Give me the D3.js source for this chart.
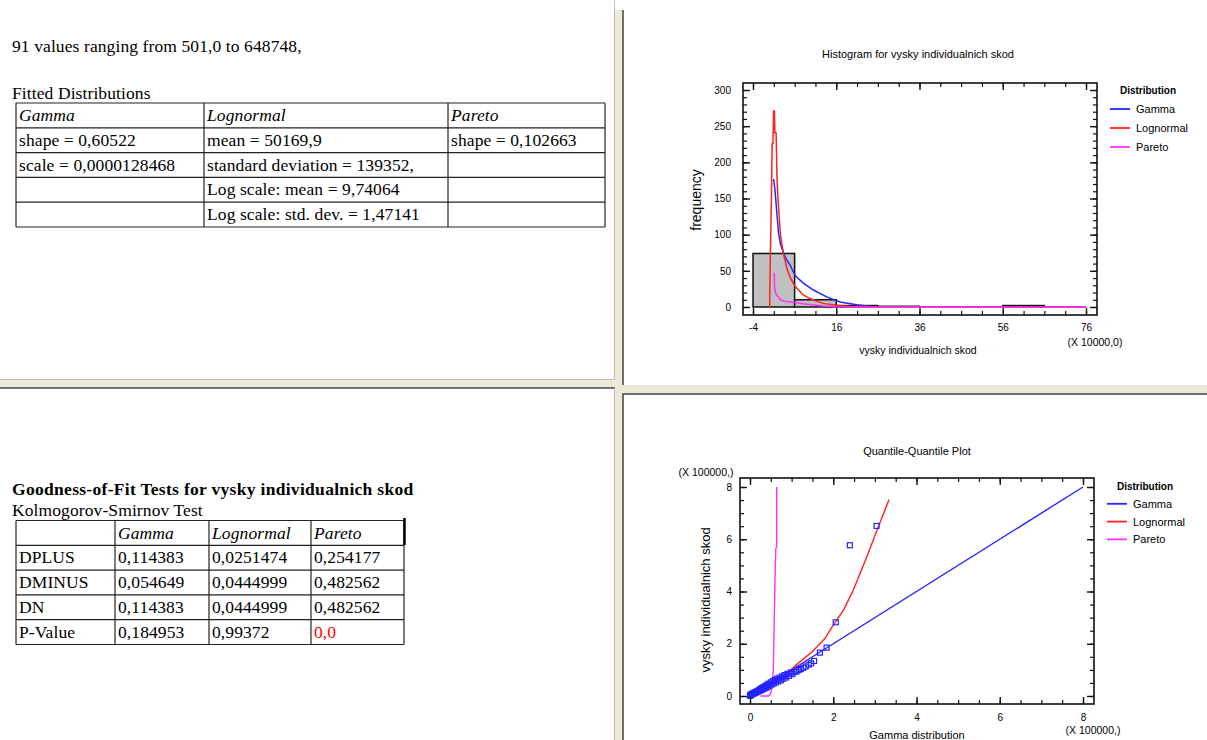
<!DOCTYPE html>
<html>
<head>
<meta charset="utf-8">
<script src="https://cdn.jsdelivr.net/npm/d3@7"></script>
<style>
  body { margin: 0; background: #fff; }
  svg text { font-family: "Liberation Sans", Arial, sans-serif; fill: #000; }
  svg text.doc { font-family: "Liberation Serif", "Times New Roman", serif; font-size: 17.5px; letter-spacing: 0.1px; }
  svg text.doc.heading { font-weight: bold; letter-spacing: 0.3px; }
</style>
</head>
<body>
<svg id="page" width="1207" height="740"></svg>
<script>
// Summary text
const summaryLine = "91 values ranging from 501,0 to 648748,";

// Fitted distributions table
const distNames = ["Gamma", "Lognormal", "Pareto"];
const fittedRows = [
  ["shape = 0,60522", "mean = 50169,9", "shape = 0,102663"],
  ["scale = 0,0000128468", "standard deviation = 139352,", ""],
  ["", "Log scale: mean = 9,74064", ""],
  ["", "Log scale: std. dev. = 1,47141", ""]
];

// Kolmogorov-Smirnov table
const ksHeader = ["", "Gamma", "Lognormal", "Pareto"];
const ksRows = [
  ["DPLUS", "0,114383", "0,0251474", "0,254177"],
  ["DMINUS", "0,054649", "0,0444999", "0,482562"],
  ["DN", "0,114383", "0,0444999", "0,482562"],
  ["P-Value", "0,184953", "0,99372", "0,0"]
];

// Histogram (x in units of 10000)
const binStarts = [-4, 6, 16, 26, 36, 46, 56];
const binWidth = 10;
const binCounts = [74, 10, 2, 1, 0, 0, 2];

// fitted curves on the histogram
const gammaX = [0.95, 1.3, 1.6, 2.15, 2.55, 3.35, 4.1, 4.9, 6.15, 8.1, 10.5, 13.7, 16.9, 20.9, 24.9, 30, 76];
const gammaY = [177, 161, 139, 102, 88, 74, 65, 58, 43, 33, 23.5, 14, 7, 3, 0.5, 0, 0];
const lognormX = [0, 0.1, 0.45, 0.6, 0.8, 0.95, 1.15, 1.25, 1.55, 1.75, 2.0, 2.6, 3.3, 4.2, 5.0, 6.2, 8.0, 9.5, 12.8, 16, 19, 25, 30, 76];
const lognormY = [0, 47, 160, 226, 226, 271, 271, 241, 241, 182, 150, 100, 74, 52, 40, 28, 17, 12, 5, 2.5, 1.2, 0.3, 0, 0];
const paretoX = [1.1, 1.2, 1.4, 1.7, 2.15, 2.55, 3.5, 4.5, 5.8, 8.0, 10.6, 13, 16, 20, 76];
const paretoY = [47, 26, 20, 16, 14, 10, 8, 7.3, 6.5, 4.5, 2.8, 1.5, 0.5, 0, 0];

// Quantile-quantile plot (units of 100000)
const qqGammaQ = [0.00,0.01,0.02,0.04,0.05,0.07,0.08,0.10,0.12,0.13,0.15,0.17,0.19,0.21,0.23,0.25,0.27,0.29,0.31,0.33,
  0.35,0.37,0.39,0.41,0.43,0.45,0.47,0.50,0.52,0.55,0.57,0.60,0.62,0.65,0.68,0.71,0.74,0.77,0.80,0.83,
  0.86,0.90,0.94,0.98,1.02,1.07,1.12,1.17,1.22,1.28,1.34,1.41,1.47,1.54,1.68,1.84,2.06,2.40,3.04];
const qqData = [0.01,0.03,0.05,0.06,0.08,0.09,0.10,0.12,0.11,0.15,0.14,0.18,0.17,0.22,0.20,0.27,0.23,0.31,0.26,0.35,
  0.29,0.38,0.32,0.43,0.36,0.47,0.40,0.52,0.44,0.57,0.48,0.62,0.52,0.66,0.56,0.70,0.60,0.75,0.66,0.80,
  0.71,0.85,0.77,0.90,0.84,0.92,0.94,1.00,1.03,1.08,1.13,1.20,1.25,1.34,1.66,1.85,2.82,5.77,6.51];
const qqGammaLineX = [0, 8];
const qqGammaLineY = [0, 8];
const qqLognormX = [0, 0.3, 0.72, 1.12, 1.5, 1.8, 2.0, 2.25, 2.48, 2.8, 3.04, 3.34];
const qqLognormY = [0, 0.18, 0.61, 1.2, 1.7, 2.2, 2.71, 3.3, 4.05, 5.3, 6.3, 7.52];
const qqParetoX = [0.25, 0.45, 0.5, 0.53, 0.56, 0.58, 0.6, 0.62, 0.64, 0.64];
const qqParetoY = [0, 0, 0.1, 0.36, 1.0, 2.65, 4.4, 5.65, 5.7, 8.0];

const colors = { Gamma: "#2424ff", Lognormal: "#ff2020", Pareto: "#ff30ff" };

const svg = d3.select("#page");

// ---------- window panes & splitters ----------
const beige = "#ece9d8";
svg.append("rect").attr("x", 615).attr("y", 10).attr("width", 8).attr("height", 730).attr("fill", beige);
svg.append("rect").attr("x", 0).attr("y", 380).attr("width", 615).attr("height", 7).attr("fill", beige);
svg.append("rect").attr("x", 622).attr("y", 385).attr("width", 585).attr("height", 8).attr("fill", beige);
// light edges of top-left pane
svg.append("path").attr("d", "M0,379.5H614.5V0").attr("fill", "none").attr("stroke", "#b8b8b8");
// sunken borders
const dark = (d) => svg.append("path").attr("d", d).attr("fill", "none").attr("stroke", "#404040").attr("stroke-width", 1.5);
dark("M623,10V385");
dark("M0,388H615");
dark("M623,740V394H1207");
svg.append("path").attr("d", "M614.5,388V740").attr("fill", "none").attr("stroke", "#b8b8b8");

// ---------- text pane helpers ----------
function drawTable(g, x0, y0, colX, rowH, rows, italicFirstRow) {
  const nRows = rows.length;
  const right = colX[colX.length - 1];
  // grid lines
  for (let r = 0; r <= nRows; r++) {
    g.append("line").attr("x1", x0).attr("x2", right)
      .attr("y1", y0 + r * rowH).attr("y2", y0 + r * rowH)
      .attr("stroke", "#222").attr("stroke-width", 1.2);
  }
  colX.forEach(cx => {
    g.append("line").attr("x1", cx).attr("x2", cx)
      .attr("y1", y0).attr("y2", y0 + nRows * rowH)
      .attr("stroke", "#222").attr("stroke-width", 1.2);
  });
  rows.forEach((row, r) => {
    row.forEach((cell, c) => {
      if (!cell) return;
      const isRed = cell === "0,0" && r === rows.length - 1;
      g.append("text").attr("class", "doc")
        .attr("x", colX[c] + 3)
        .attr("y", y0 + r * rowH + 18)
        .style("font-style", italicFirstRow && r === 0 ? "italic" : "normal")
        .style("fill", isRed ? "#ff0000" : null)
        .text(cell);
    });
  });
}

// top-left pane
const tl = svg.append("g");
tl.append("text").attr("class", "doc").attr("x", 12).attr("y", 52).text(summaryLine);
tl.append("text").attr("class", "doc").attr("x", 12).attr("y", 99).text("Fitted Distributions");
drawTable(tl, 16, 103, [16, 204, 448, 605], 24.8, [distNames].concat(fittedRows), true);

// bottom-left pane
const bl = svg.append("g");
bl.append("text").attr("class", "doc heading").attr("x", 12).attr("y", 495)
  .text("Goodness-of-Fit Tests for vysky individualnich skod");
bl.append("text").attr("class", "doc").attr("x", 12).attr("y", 516).text("Kolmogorov-Smirnov Test");
drawTable(bl, 16, 520.5, [16, 115, 209, 311, 404], 24.8, [ksHeader].concat(ksRows), true);
bl.append("line").attr("x1", 404.5).attr("x2", 404.5).attr("y1", 518).attr("y2", 545)
  .attr("stroke", "#000").attr("stroke-width", 2.5);

// ---------- chart helpers ----------
function frameTicks(g, box, x, y, xMajor, xMinor, yMajor, yMinor, padX, padY) {
  const sides = [
    { make: () => d3.axisBottom(x), t: `translate(0,${box.bottom})`, major: xMajor, minor: xMinor, label: true, pad: padX },
    { make: () => d3.axisTop(x), t: `translate(0,${box.top})`, major: xMajor, minor: xMinor, label: false },
    { make: () => d3.axisLeft(y), t: `translate(${box.left},0)`, major: yMajor, minor: yMinor, label: true, pad: padY },
    { make: () => d3.axisRight(y), t: `translate(${box.right},0)`, major: yMajor, minor: yMinor, label: false }
  ];
  sides.forEach(s => {
    g.append("g").attr("transform", s.t)
      .call(s.make().tickValues(s.minor).tickSize(-4).tickFormat(""))
      .call(a => a.select(".domain").remove())
      .selectAll("line").attr("stroke", "#111").attr("stroke-width", 1.2);
    const a = g.append("g").attr("transform", s.t)
      .call(s.make().tickValues(s.major).tickSize(-7)
        .tickPadding(s.pad || 3)
        .tickFormat(s.label ? (d => String(d)) : ""));
    a.select(".domain").remove();
    a.selectAll("line").attr("stroke", "#111").attr("stroke-width", 1.4);
    a.selectAll("text").attr("font-size", 10).attr("font-family", null).style("fill", "#000");
  });
  g.append("rect").attr("x", box.left).attr("y", box.top)
    .attr("width", box.right - box.left).attr("height", box.bottom - box.top)
    .attr("fill", "none").attr("stroke", "#111").attr("stroke-width", 1.6);
}

function legend(g, x, y, step) {
  g.append("text").attr("x", x + 38).attr("y", y).attr("text-anchor", "middle")
    .attr("font-size", 10).attr("font-weight", "bold").text("Distribution");
  distNames.forEach((name, i) => {
    const yy = y + (i + 1) * step;
    g.append("line").attr("x1", x).attr("x2", x + 20).attr("y1", yy - 4).attr("y2", yy - 4)
      .attr("stroke", colors[name]).attr("stroke-width", 1.8);
    g.append("text").attr("x", x + 26).attr("y", yy).attr("font-size", 11).text(name);
  });
}

// ---------- histogram ----------
const hBox = { left: 743, right: 1097, top: 83, bottom: 315 };
const hx = d3.scaleLinear().domain([-4, 76]).range([753, 1086]);
const hy = d3.scaleLinear().domain([0, 300]).range([307, 90]);
const hg = svg.append("g");

hg.append("text").attr("x", 918).attr("y", 58).attr("text-anchor", "middle")
  .attr("font-size", 11).text("Histogram for vysky individualnich skod");

hg.selectAll(".bar")
  .data(binStarts.map((s, i) => ({ s, c: binCounts[i] })).filter(d => d.c > 0))
  .enter().append("rect")
    .attr("class", "bar")
    .attr("x", d => hx(d.s))
    .attr("width", d => hx(d.s + binWidth) - hx(d.s))
    .attr("y", d => hy(d.c))
    .attr("height", d => hy(0) - hy(d.c))
    .attr("fill", "#c0c0c0").attr("stroke", "#111").attr("stroke-width", 1.5);

const hLine = d3.line().x(d => hx(d[0])).y(d => hy(d[1]));
[["Gamma", gammaX, gammaY], ["Lognormal", lognormX, lognormY], ["Pareto", paretoX, paretoY]]
  .forEach(([name, xs, ys]) => {
    hg.append("path").datum(xs.map((v, i) => [v, ys[i]]))
      .attr("d", hLine).attr("fill", "none")
      .attr("stroke", colors[name]).attr("stroke-width", 1.5);
  });

frameTicks(hg, hBox, hx, hy,
  d3.range(-4, 77, 20), d3.range(-4, 77, 5),
  d3.range(0, 301, 50), d3.range(0, 301, 10), 9, 12);

hg.append("text").attr("transform", "translate(701,200) rotate(-90)")
  .attr("text-anchor", "middle").attr("font-size", 14).text("frequency");
hg.append("text").attr("x", 918).attr("y", 354).attr("text-anchor", "middle")
  .attr("font-size", 10.5).text("vysky individualnich skod");
hg.append("text").attr("x", 1095).attr("y", 346).attr("text-anchor", "middle")
  .attr("font-size", 10.5).text("(X 10000,0)");
legend(hg, 1110, 94, 19);

// ---------- quantile-quantile plot ----------
const qBox = { left: 740, right: 1094, top: 478, bottom: 704 };
const qx = d3.scaleLinear().domain([0, 8]).range([750, 1083]);
const qy = d3.scaleLinear().domain([0, 8]).range([696, 487]);
const qg = svg.append("g");

qg.append("text").attr("x", 917).attr("y", 455).attr("text-anchor", "middle")
  .attr("font-size", 11).text("Quantile-Quantile Plot");

const qLine = d3.line().x(d => qx(d[0])).y(d => qy(d[1]));
[["Gamma", qqGammaLineX, qqGammaLineY], ["Lognormal", qqLognormX, qqLognormY], ["Pareto", qqParetoX, qqParetoY]]
  .forEach(([name, xs, ys]) => {
    qg.append("path").datum(xs.map((v, i) => [v, ys[i]]))
      .attr("d", qLine).attr("fill", "none")
      .attr("stroke", colors[name]).attr("stroke-width", 1.4);
  });

qg.selectAll(".pt")
  .data(qqGammaQ.map((v, i) => [v, qqData[i]]))
  .enter().append("rect")
    .attr("class", "pt")
    .attr("x", d => qx(d[0]) - 2.5)
    .attr("y", d => qy(d[1]) - 2.5)
    .attr("width", 5).attr("height", 5)
    .attr("fill", "none").attr("stroke", colors.Gamma).attr("stroke-width", 1.2);

frameTicks(qg, qBox, qx, qy,
  d3.range(0, 9, 2), d3.range(0, 8.01, 0.5),
  d3.range(0, 9, 2), d3.range(0, 8.01, 0.5), 10, 8);

qg.append("text").attr("transform", "translate(710,600) rotate(-90)")
  .attr("text-anchor", "middle").attr("font-size", 13).text("vysky individualnich skod");
qg.append("text").attr("x", 917).attr("y", 739).attr("text-anchor", "middle")
  .attr("font-size", 11).text("Gamma distribution");
qg.append("text").attr("x", 1093).attr("y", 734).attr("text-anchor", "middle")
  .attr("font-size", 10.5).text("(X 100000,)");
qg.append("text").attr("x", 706).attr("y", 476).attr("text-anchor", "middle")
  .attr("font-size", 10.5).text("(X 100000,)");
legend(qg, 1107, 490, 17.8);
</script>
</body>
</html>
